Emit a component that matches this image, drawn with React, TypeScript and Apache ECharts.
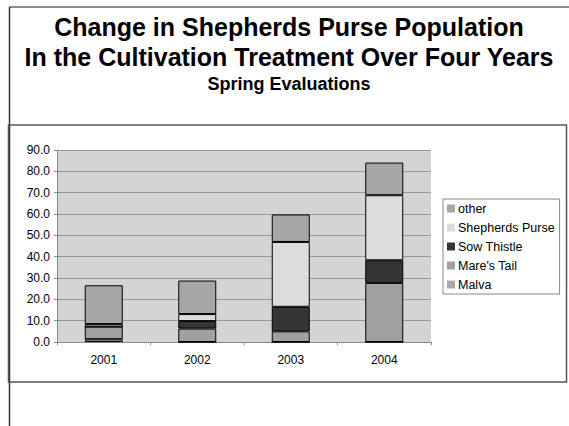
import React, { useEffect, useRef } from "react";
import * as echarts from "echarts";

// Weed counts per spring evaluation, stacked by species
const years = ["2001", "2002", "2003", "2004"];
const malva = [1.3, 0, 0, 0];
const maresTail = [5.9, 6.3, 5.0, 27.7];
const sowThistle = [0, 3.5, 11.5, 10.6];
const shepherdsPurse = [1.2, 3.3, 30.4, 30.5];
const other = [18.2, 15.7, 12.9, 15.3];

const titleLines = [
  "Change in Shepherds Purse Population",
  "In the Cultivation Treatment Over Four Years",
];
const subtitle = "Spring Evaluations";

const FONT = "'Liberation Sans', Arial, Helvetica, sans-serif";

const seriesDefs = [
  { name: "Malva", data: malva, color: "#a8a8a8" },
  { name: "Mare's Tail", data: maresTail, color: "#a0a0a0" },
  { name: "Sow Thistle", data: sowThistle, color: "#353535" },
  { name: "Shepherds Purse", data: shepherdsPurse, color: "#dcdcdc" },
  { name: "other", data: other, color: "#a6a6a6" },
];

export default function App() {
  const ref = useRef<HTMLDivElement>(null);

  useEffect(() => {
    if (!ref.current) return;
    const chart = echarts.init(ref.current, null, {
      renderer: "svg",
      width: 569,
      height: 426,
    });

    chart.setOption({
      animation: false,
      backgroundColor: "#ffffff",
      textStyle: { fontFamily: FONT },
      graphic: [
        // outer frame edges
        {
          type: "line",
          shape: { x1: 9, y1: 7, x2: 569, y2: 7 },
          style: { stroke: "#666", lineWidth: 1.5 },
        },
        {
          type: "line",
          shape: { x1: 9.5, y1: 7, x2: 9.5, y2: 426 },
          style: { stroke: "#333", lineWidth: 1.5 },
        },
        // chart area box
        {
          type: "rect",
          shape: { x: 8.5, y: 125, width: 558, height: 257 },
          style: { fill: "none", stroke: "#555", lineWidth: 1.5 },
        },
        {
          type: "text",
          x: 289,
          y: 26.5,
          style: {
            text: titleLines[0],
            font: `bold 25px ${FONT}`,
            fill: "#000",
            align: "center",
            verticalAlign: "middle",
          },
        },
        {
          type: "text",
          x: 289,
          y: 56.5,
          style: {
            text: titleLines[1],
            font: `bold 25px ${FONT}`,
            fill: "#000",
            align: "center",
            verticalAlign: "middle",
          },
        },
        {
          type: "text",
          x: 289,
          y: 84,
          style: {
            text: subtitle,
            font: `bold 18px ${FONT}`,
            fill: "#000",
            align: "center",
            verticalAlign: "middle",
          },
        },
      ],
      legend: {
        orient: "vertical",
        left: 443,
        top: 199,
        data: ["other", "Shepherds Purse", "Sow Thistle", "Mare's Tail", "Malva"],
        icon: "rect",
        itemWidth: 8,
        itemHeight: 8,
        itemGap: 6,
        padding: [3, 5, 3, 4],
        backgroundColor: "#ffffff",
        borderColor: "#888",
        borderWidth: 1,
        borderRadius: 0,
        itemStyle: { borderWidth: 0 },
        textStyle: {
          fontFamily: FONT,
          fontSize: 12.5,
          lineHeight: 12,
          color: "#000",
          padding: [0, 0, 0, -2],
        },
      },
      grid: {
        left: 57,
        right: 138,
        top: 150,
        bottom: 84,
        show: true,
        backgroundColor: "#d4d4d4",
        borderWidth: 0,
      },
      xAxis: {
        type: "category",
        data: years,
        axisLine: { lineStyle: { color: "#888", width: 1 } },
        axisTick: { show: true, alignWithLabel: false, length: 3, lineStyle: { color: "#888" } },
        axisLabel: { color: "#000", fontSize: 12, fontFamily: FONT, margin: 12 },
      },
      yAxis: {
        type: "value",
        min: 0,
        max: 90,
        interval: 10,
        axisLine: { show: true, lineStyle: { color: "#888", width: 1 } },
        axisTick: { show: true, length: 3, lineStyle: { color: "#888" } },
        axisLabel: {
          color: "#000",
          fontSize: 12,
          fontFamily: FONT,
          margin: 7,
          formatter: (v: number) => v.toFixed(1),
        },
        splitLine: { show: true, lineStyle: { color: "#999", width: 1 } },
      },
      series: seriesDefs.map((s) => ({
        name: s.name,
        type: "bar",
        stack: "weeds",
        data: s.data,
        barWidth: 38,
        itemStyle: { color: s.color, borderColor: "#000", borderWidth: 1 },
        emphasis: { disabled: true },
      })),
    });

    return () => chart.dispose();
  }, []);

  return (
    <div
      ref={ref}
      style={{ position: "fixed", left: 0, top: 0, width: 569, height: 426 }}
    />
  );
}
